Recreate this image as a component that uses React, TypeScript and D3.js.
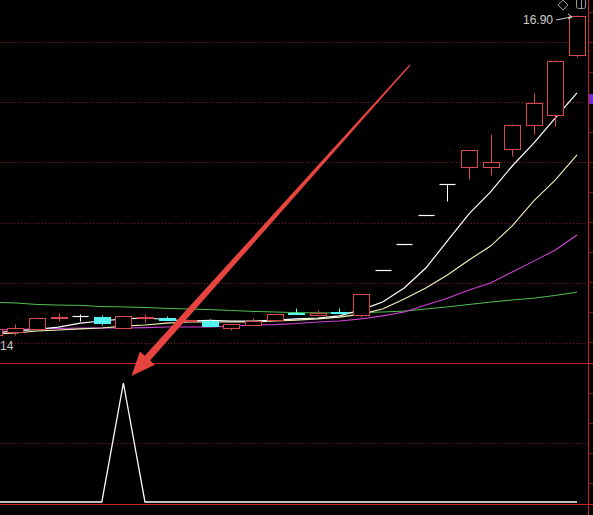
import React, { useEffect } from "react";
import * as d3 from "d3";

const W = 593;
const H = 515;

// Bar positions: index -1 is the partly visible bar at the left edge.
const barIndex = [-1, 0, 1, 2, 3, 4, 5, 6, 7, 8, 9, 10, 11, 12, 13, 14, 15, 16, 17, 18, 19, 20, 21, 22, 23, 24, 25, 26];

const opens = [6.27, 6.37, 6.47, 6.86, 6.9, 6.86, 6.5, 6.86, 6.83, 6.74, 6.73, 6.5, 6.6, 6.76, 7.0, 6.93, 7.03, 6.93, 8.43, 9.29, 10.25, 11.28, 11.85, 11.85, 12.45, 13.24, 13.57, 15.57];
const closes = [6.46, 6.5, 6.83, 6.87, 6.9, 6.66, 6.9, 6.87, 6.77, 6.77, 6.56, 6.63, 6.73, 6.96, 6.97, 7.0, 7.0, 7.63, 8.43, 9.29, 10.25, 11.28, 12.41, 12.01, 13.24, 13.97, 15.37, 16.88];
const highs = [6.5, 6.63, 6.85, 7.0, 6.96, 6.93, 6.91, 6.96, 6.9, 6.8, 6.8, 6.64, 6.83, 6.97, 7.16, 7.1, 7.16, 7.63, 8.43, 9.29, 10.25, 11.28, 12.41, 12.94, 13.26, 14.31, 15.4, 16.9];
const lows = [6.22, 6.27, 6.45, 6.73, 6.73, 6.6, 6.49, 6.7, 6.75, 6.72, 6.55, 6.43, 6.59, 6.75, 6.95, 6.92, 6.99, 6.86, 8.43, 9.29, 10.25, 10.72, 11.45, 11.58, 12.21, 12.94, 13.21, 15.5];

// Moving averages
const ma5 = [6.33, 6.4, 6.45, 6.53, 6.66, 6.73, 6.8, 6.83, 6.78, 6.73, 6.75, 6.73, 6.73, 6.76, 6.8, 6.83, 6.9, 7.1, 7.36, 7.83, 8.49, 9.39, 10.29, 11.02, 11.88, 12.64, 13.48, 14.31];
const ma10 = [6.3, 6.33, 6.4, 6.43, 6.47, 6.5, 6.56, 6.6, 6.66, 6.7, 6.7, 6.7, 6.7, 6.73, 6.76, 6.8, 6.86, 6.96, 7.13, 7.46, 7.83, 8.26, 8.76, 9.22, 9.89, 10.72, 11.42, 12.25];
const ma20 = [6.43, 6.45, 6.47, 6.48, 6.5, 6.5, 6.5, 6.51, 6.53, 6.53, 6.53, 6.56, 6.6, 6.61, 6.65, 6.7, 6.73, 6.8, 6.9, 7.03, 7.26, 7.49, 7.76, 7.99, 8.36, 8.72, 9.09, 9.59];
const ma60 = [7.35, 7.33, 7.28, 7.26, 7.25, 7.21, 7.2, 7.18, 7.15, 7.13, 7.11, 7.08, 7.05, 7.03, 7.01, 7.0, 7.0, 7.01, 7.03, 7.06, 7.13, 7.2, 7.28, 7.36, 7.43, 7.49, 7.58, 7.69];

// Lower-panel signal
const signal = [0, 0, 0, 0, 0, 0, 1, 0, 0, 0, 0, 0, 0, 0, 0, 0, 0, 0, 0, 0, 0, 0, 0, 0, 0, 0, 0, 0];

const priceGrid = [6, 8, 10, 12, 14, 16];
const signalGrid = [0.5];
const lowLabel = "14";

const RED = "#d9484a";
const CYAN = "#54f4f4";
const GRID = "#7a1a1a";
const AXIS = "#cc2222";

const MAIN_BOTTOM = 363;
const LOWER_BOTTOM = 504;
const RIGHT_EDGE = 588.5;

export default function App() {
  useEffect(() => {
    document.body.style.margin = "0";
    document.body.style.background = "#000";
  }, []);

  const x = d3.scaleLinear().domain([-1, 26]).range([-6.2, 577]);
  const y = d3.scaleLinear().domain([6, 16]).range([343, 42]);
  const ys = d3.scaleLinear().domain([0, 1]).range([502, 383]);
  const half = 8;

  const crisp = (v: number) => Math.round(v) + 0.5;

  const maLine = (vals: number[]) =>
    d3
      .line<number>()
      .x((_, i) => x(barIndex[i]))
      .y((d) => y(d))(vals) || "";

  const sigLine =
    d3
      .line<number>()
      .x((_, i) => x(barIndex[i]))
      .y((d) => ys(d))(signal) || "";

  // Arrow pointing at the signal peak
  const peakPos = signal.indexOf(d3.max(signal) as number);
  const tip: [number, number] = [x(barIndex[peakPos]) + 8, ys(1) - 7];
  const tail: [number, number] = [410, 65];
  const dx = tail[0] - tip[0];
  const dy = tail[1] - tip[1];
  const len = Math.hypot(dx, dy);
  const ux = dx / len;
  const uy = dy / len;
  const nx = -uy;
  const ny = ux;
  const headLen = 24;
  const headHalf = 10;
  const shaftBase = 3.6;
  const shaftTail = 0.6;
  const hb = [tip[0] + ux * headLen, tip[1] + uy * headLen];
  const arrowPts = [
    tip,
    [hb[0] + nx * headHalf, hb[1] + ny * headHalf],
    [hb[0] + nx * shaftBase, hb[1] + ny * shaftBase],
    [tail[0] + nx * shaftTail, tail[1] + ny * shaftTail],
    [tail[0] - nx * shaftTail, tail[1] - ny * shaftTail],
    [hb[0] - nx * shaftBase, hb[1] - ny * shaftBase],
    [hb[0] - nx * headHalf, hb[1] - ny * headHalf],
  ]
    .map((p) => p.join(","))
    .join(" ");

  // Highest high label
  const maxHigh = d3.max(highs) as number;
  const maxPos = highs.indexOf(maxHigh);
  const maxX = x(barIndex[maxPos]);
  const maxY = y(maxHigh);

  const rightTicks = d3.range(12, MAIN_BOTTOM, 30).concat(d3.range(393, LOWER_BOTTOM, 30));

  return (
    <svg
      width={W}
      height={H}
      viewBox={`0 0 ${W} ${H}`}
      style={{ position: "absolute", left: 0, top: 0, display: "block", background: "#000" }}
      fontFamily="'Liberation Sans', Arial, sans-serif"
    >
      <rect x={0} y={0} width={W} height={H} fill="#000" />
      <defs>
        <clipPath id="mainClip">
          <rect x={0} y={0} width={RIGHT_EDGE - 1} height={MAIN_BOTTOM} />
        </clipPath>
        <clipPath id="lowerClip">
          <rect x={0} y={MAIN_BOTTOM + 1} width={RIGHT_EDGE - 1} height={LOWER_BOTTOM - MAIN_BOTTOM} />
        </clipPath>
      </defs>

      {/* dotted price grid */}
      {priceGrid.map((p) => (
        <line key={p} x1={0} x2={RIGHT_EDGE} y1={crisp(y(p))} y2={crisp(y(p))} stroke={GRID} strokeDasharray="1,2" />
      ))}
      {signalGrid.map((v) => (
        <line key={v} x1={0} x2={RIGHT_EDGE} y1={crisp(ys(v))} y2={crisp(ys(v))} stroke={GRID} strokeDasharray="1,2" />
      ))}

      {/* panel frame */}
      <rect x={0} y={MAIN_BOTTOM} width={W} height={1} fill={AXIS} />
      <rect x={0} y={LOWER_BOTTOM} width={W} height={1} fill={AXIS} />
      <rect x={RIGHT_EDGE - 0.5} y={0} width={1} height={H} fill={AXIS} />
      {rightTicks.map((t) => (
        <line key={t} x1={RIGHT_EDGE} x2={W} y1={t + 0.5} y2={t + 0.5} stroke={GRID} />
      ))}
      <rect x={589} y={94} width={4} height={10} fill="#6a2fd0" />

      <g clipPath="url(#mainClip)">
        {/* moving averages */}
        <path d={maLine(ma60)} fill="none" stroke="#4fc24f" strokeWidth={1} />
        <path d={maLine(ma20)} fill="none" stroke="#d040d8" strokeWidth={1.1} />
        <path d={maLine(ma10)} fill="none" stroke="#f4f4b8" strokeWidth={1.1} />
        <path d={maLine(ma5)} fill="none" stroke="#ffffff" strokeWidth={1.2} />

        {/* candles */}
        {barIndex.map((b, i) => {
          const cx = crisp(x(b));
          const o = opens[i];
          const c = closes[i];
          const up = c > o;
          const flat = c === o;
          const color = flat ? "#ffffff" : up ? RED : CYAN;
          const top = y(Math.max(o, c));
          const bot = y(Math.min(o, c));
          const yT = crisp(top);
          const yB = Math.max(crisp(bot), yT + 1);
          const yH = crisp(y(highs[i]));
          const yL = crisp(y(lows[i]));
          const left = Math.round(x(b)) - half + 0.5;
          return (
            <g key={b}>
              {yH < yT && <line x1={cx} x2={cx} y1={yH} y2={yT} stroke={color} />}
              {yL > yB && <line x1={cx} x2={cx} y1={flat ? yT : yB} y2={yL} stroke={color} />}
              {flat ? (
                <line x1={left} x2={left + 2 * half} y1={yT} y2={yT} stroke={color} strokeWidth={1.2} />
              ) : (
                <rect
                  x={left}
                  y={yT}
                  width={2 * half}
                  height={yB - yT}
                  fill={up ? "#000" : CYAN}
                  stroke={color}
                  strokeWidth={1}
                />
              )}
            </g>
          );
        })}

        {/* highest-price marker */}
        <line x1={556} y1={20} x2={maxX - 5} y2={maxY + 2} stroke="#cfcfcf" strokeWidth={1} />
        <path d={`M${maxX - 9},${maxY - 1} L${maxX - 5},${maxY + 2} L${maxX - 9},${maxY + 4}`} fill="none" stroke="#cfcfcf" />
        <text x={553} y={24} textAnchor="end" fontSize={12} fill="#d0d0d0">
          {maxHigh.toFixed(2)}
        </text>
      </g>
      <text x={0} y={350} textAnchor="start" fontSize={12} fill="#c8c8c8">
        {lowLabel}
      </text>

      {/* signal line */}
      <g clipPath="url(#lowerClip)">
        <path d={sigLine} fill="none" stroke="#ffffff" strokeWidth={1.3} />
      </g>

      {/* toolbar glyphs */}
      <path d="M563,0 L568,5 L563,10 L558,5 Z" fill="none" stroke="#9a9a9a" />
      <rect x={576.5} y={-2.5} width={9} height={11} rx={2} fill="none" stroke="#9a9a9a" />
      <line x1={581.5} x2={581.5} y1={0} y2={8} stroke="#9a9a9a" />

      {/* annotation arrow */}
      <polygon points={arrowPts} fill="#e8443f" />
    </svg>
  );
}
